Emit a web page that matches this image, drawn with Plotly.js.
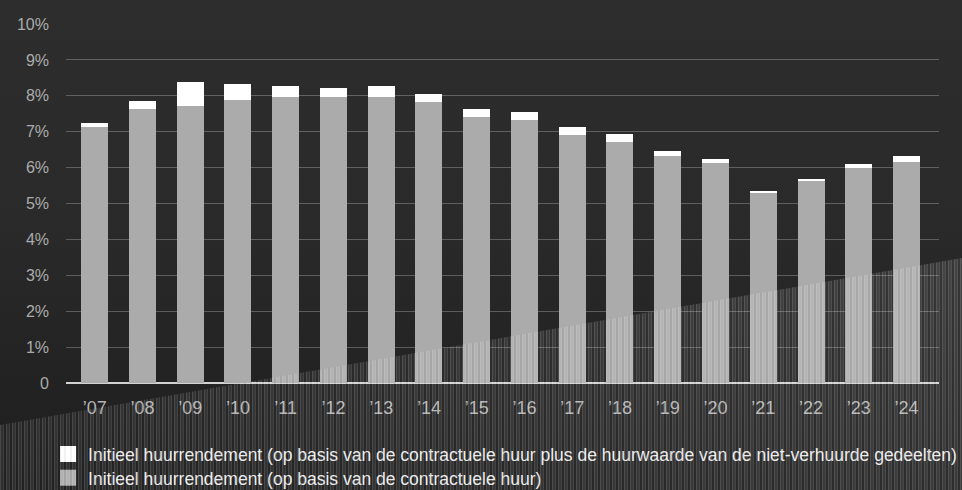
<!DOCTYPE html>
<html>
<head>
<meta charset="utf-8">
<script src="https://cdn.plot.ly/plotly-3.0.1.min.js"></script>
<style>
  html, body { margin: 0; padding: 0; }
  body {
    width: 962px; height: 490px; overflow: hidden; position: relative;
    background: linear-gradient(to bottom, #2d2d2d 0%, #2a2a2a 45%, #222222 80%, #1e1e1e 100%);
  }
  #chart { position: absolute; left: 0; top: 0; width: 962px; height: 490px; }
  /* striped light band rising from the lower left */
  #band {
    position: absolute; left: 0; top: 0; width: 962px; height: 490px;
    pointer-events: none;
    clip-path: polygon(0 425px, 962px 258px, 962px 490px, 0 490px);
    background:
      repeating-linear-gradient(90deg,
        rgba(255,255,255,0.16) 0px, rgba(255,255,255,0.16) 1px,
        rgba(255,255,255,0.06) 1px, rgba(255,255,255,0.06) 3px,
        rgba(255,255,255,0.12) 3px, rgba(255,255,255,0.12) 4px,
        rgba(0,0,0,0.05) 4px, rgba(0,0,0,0.05) 6px),
      linear-gradient(to right, rgba(255,255,255,0.02), rgba(255,255,255,0.08));
  }
</style>
</head>
<body>
<div id="chart"></div>
<div id="band"></div>
<script>
// Jaren
const years = ["’07", "’08", "’09", "’10", "’11", "’12", "’13", "’14", "’15",
               "’16", "’17", "’18", "’19", "’20", "’21", "’22", "’23", "’24"];

// Initieel huurrendement op basis van de contractuele huur (%)
const contractual = [7.14, 7.64, 7.72, 7.89, 7.97, 7.97, 7.97, 7.83, 7.42,
                     7.33, 6.92, 6.72, 6.33, 6.14, 5.28, 5.64, 6.00, 6.17];

// Inclusief huurwaarde van de niet-verhuurde gedeelten (%)
const inclVacant = [7.25, 7.86, 8.39, 8.33, 8.28, 8.22, 8.28, 8.06, 7.64,
                    7.56, 7.14, 6.94, 6.47, 6.25, 5.36, 5.69, 6.11, 6.33];

const yTickVals = [0, 1, 2, 3, 4, 5, 6, 7, 8, 9, 10];
const yTickText = ["0", "1%", "2%", "3%", "4%", "5%", "6%", "7%", "8%", "9%", "10%"];

const labelBase = "Initieel huurrendement (op basis van de contractuele huur";
const nameGray = labelBase + ")";
const nameWhite = labelBase + " plus de huurwaarde van de niet-verhuurde gedeelten)";

// the white segment sits on top of the grey one
const vacantPart = inclVacant.map((v, i) => +(v - contractual[i]).toFixed(2));

const traces = [
  {
    type: "bar", name: nameGray, x: years, y: contractual,
    marker: { color: "#ababab", line: { width: 0 } },
    hoverinfo: "x+y"
  },
  {
    type: "bar", name: nameWhite, x: years, y: vacantPart,
    customdata: inclVacant,
    marker: { color: "#ffffff", line: { width: 0 } },
    hovertemplate: "%{customdata}%<extra></extra>"
  }
];

const font = "'Liberation Sans', Arial, Helvetica, sans-serif";

const layout = {
  width: 962, height: 490,
  margin: { l: 66, r: 23, t: 24, b: 107, autoexpand: false },
  paper_bgcolor: "rgba(0,0,0,0)",
  plot_bgcolor: "rgba(0,0,0,0)",
  font: { family: font, color: "#ababab" },
  barmode: "stack",
  bargap: 0.435,
  showlegend: true,
  legend: {
    orientation: "v", traceorder: "reversed",
    xref: "container", yref: "container",
    x: 0.05, xanchor: "left", y: 0.11, yanchor: "top",
    bgcolor: "rgba(0,0,0,0)",
    font: { family: font, size: 17.5, color: "#ececec" },
    itemclick: false, itemdoubleclick: false
  },
  xaxis: {
    type: "category",
    range: [-0.6, 17.68],
    showgrid: false, showline: false, zeroline: false, ticks: "",
    tickfont: { family: font, size: 18, color: "#b3b3b3" },
    ticklabelstandoff: 12,
    fixedrange: true
  },
  yaxis: {
    range: [0, 10],
    tickvals: yTickVals, ticktext: yTickText,
    showgrid: true, gridcolor: "rgba(255,255,255,0.25)", gridwidth: 1.2,
    zeroline: true, zerolinecolor: "#d2d2d2", zerolinewidth: 2,
    showline: false, ticks: "",
    layer: "above traces",
    tickfont: { family: font, size: 16, color: "#ababab" },
    ticklabelstandoff: 16,
    fixedrange: true
  }
};

Plotly.newPlot("chart", traces, layout, { displayModeBar: false }).then(function (gd) {
  // slightly larger legend swatches
  gd.querySelectorAll(".legendpoints path").forEach(function (p) {
    p.setAttribute("d", "M8,8H-8V-8H8Z");
  });
  // tighter line spacing between the two legend rows
  const items = gd.querySelectorAll(".legend .traces");
  items.forEach(function (g, i) {
    const m = /translate\(([-\d.]+)[ ,]+([-\d.]+)\)/.exec(g.getAttribute("transform") || "");
    if (m && i > 0) {
      g.setAttribute("transform", "translate(" + m[1] + "," + (parseFloat(m[2]) - 2 * i) + ")");
    }
  });
});
</script>
</body>
</html>
